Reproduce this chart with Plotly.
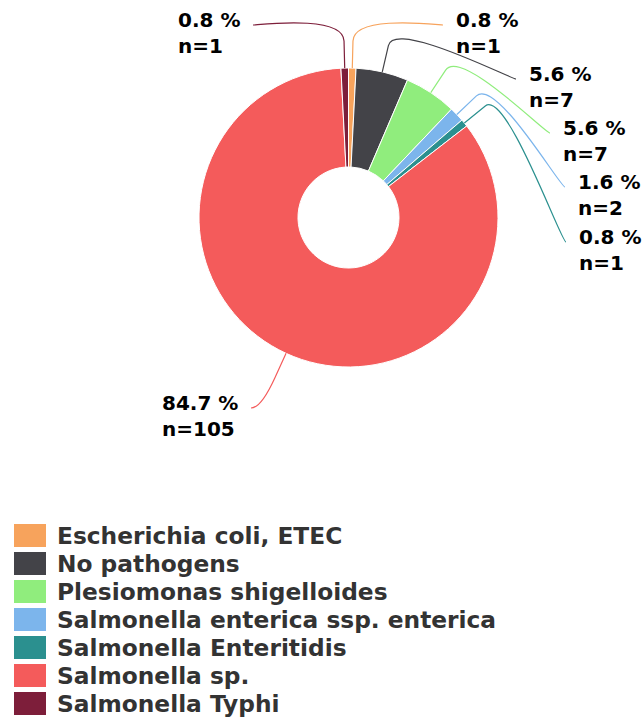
import math
import plotly.graph_objects as go

# ---- data ----
labels = ["Escherichia coli, ETEC", "No pathogens", "Plesiomonas shigelloides",
          "Salmonella enterica ssp. enterica", "Salmonella Enteritidis",
          "Salmonella sp.", "Salmonella Typhi"]
counts = [1, 7, 7, 2, 1, 105, 1]
colors = ["#f7a35c", "#434348", "#90ed7d", "#7cb5ec", "#2b908f", "#f45b5b", "#7d1e3a"]

# ---- layout (pixels) ----
W, H = 643, 723
CX, CY, R = 348.5, 217.5, 149.5
HOLE = 0.338
BREAK = 27
# connector end point of each data label
label_anchor = [(443, 25), (516, 79), (550, 133), (565, 187), (566, 242), (251, 408), (253, 25)]
FONT = "DejaVu Sans"


def px(x):
    return x / W


def py(y):
    return 1 - y / H


total = sum(counts)

fig = go.Figure()
fig.add_trace(go.Pie(
    labels=labels, values=counts, sort=False, direction="clockwise", rotation=0,
    hole=HOLE, textinfo="none", showlegend=False,
    marker=dict(colors=colors, line=dict(color="white", width=1)),
    domain=dict(x=[px(CX - R), px(CX + R)], y=[py(CY + R), py(CY - R)]),
))

shapes = []
annotations = []
cum = 0
for lab, c, col, (ax, ay) in zip(labels, counts, colors, label_anchor):
    mid = (cum + c / 2) / total * 2 * math.pi
    cum += c
    s, co = math.sin(mid), math.cos(mid)
    A = (CX + R * s, CY - R * co)
    B = (CX + (R + BREAK) * s, CY - (R + BREAK) * co)
    right = ax > CX
    c1 = (ax - 5 if right else ax + 5, ay)
    c2 = (2 * B[0] - A[0], 2 * B[1] - A[1])
    path = (f"M{px(ax)},{py(ay)} C{px(c1[0])},{py(c1[1])} {px(c2[0])},{py(c2[1])} "
            f"{px(B[0])},{py(B[1])} L{px(A[0])},{py(A[1])}")
    shapes.append(dict(type="path", xref="paper", yref="paper", path=path,
                       line=dict(color=col, width=1.2)))
    txt = f"{100 * c / total:.1f} %<br>n={c}"
    annotations.append(dict(
        text=txt, xref="paper", yref="paper", showarrow=False,
        x=px(ax + 12) if right else px(ax - 12), y=py(ay + 8),
        xanchor="left" if right else "right", yanchor="middle", align="left",
        borderpad=0, font=dict(family=FONT, size=20, color="#000000", weight="bold")))

# legend
for i, (lab, col) in enumerate(zip(labels, colors)):
    yc = 535.5 + 28 * i
    shapes.append(dict(type="rect", xref="paper", yref="paper",
                       x0=px(14), x1=px(46), y0=py(yc + 11.5), y1=py(yc - 11.5),
                       fillcolor=col, line=dict(width=0)))
    annotations.append(dict(
        text=lab, xref="paper", yref="paper", showarrow=False,
        x=px(56), y=py(yc), xanchor="left", yanchor="middle", borderpad=0,
        font=dict(family=FONT, size=23.3, color="#333333", weight="bold")))

fig.update_layout(width=W, height=H, margin=dict(l=0, r=0, t=0, b=0),
                  paper_bgcolor="white", plot_bgcolor="white",
                  shapes=shapes, annotations=annotations)
fig.write_html("out.html", config={"displayModeBar": False},
               post_script="document.body.style.margin='0';document.body.style.overflow='hidden';")
